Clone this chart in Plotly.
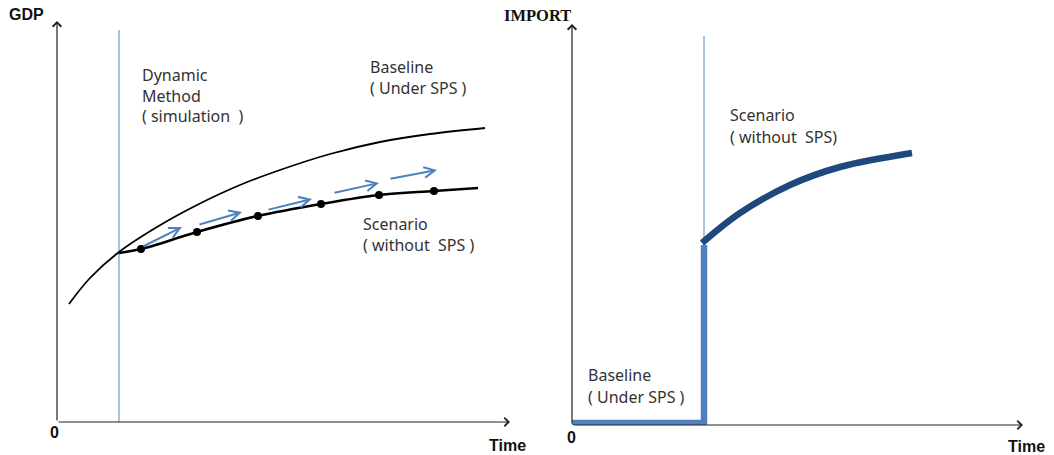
import plotly.graph_objects as go

W, H = 1054, 455

# ---------------- data (left panel: GDP over time) ----------------
gdp_base_t = [12, 33, 62, 100, 140, 183, 223, 273, 323, 373, 428]
gdp_base_v = [118, 144, 170, 195, 217, 237, 252, 268, 280, 288, 294]

gdp_scen_t = [62, 84, 140, 201, 264, 322, 377, 421]
gdp_scen_v = [169, 173, 190, 206, 218, 227, 231, 234]

gdp_dot_t = [84, 140, 201, 264, 322, 377]
gdp_dot_v = [173, 190, 206, 218, 227, 231]

# simulation step arrows (start t, start v, end t, end v)
sim_t0 = [85, 141, 210, 276, 332]
sim_v0 = [175, 197, 212, 229, 243]
sim_t1 = [125, 185, 255, 322, 380]
sim_v1 = [195, 210, 223, 239, 252]

gdp_policy_t = [62, 62]
gdp_policy_v = [0, 392]

# ---------------- data (right panel: IMPORT over time) ----------------
imp_base_t = [0, 132, 132]
imp_base_v = [2, 2, 180]

imp_scen_t = [130, 168, 218, 268, 340]
imp_scen_v = [182, 212, 240, 258, 272]

imp_policy_t = [132, 132]
imp_policy_v = [0, 389]

TXT = "#333333"
FONT = "Noto Sans"
BLUE = "#4F81BD"
DARK = "#1F497D"

fig = go.Figure()

# left panel
fig.add_trace(go.Scatter(x=gdp_policy_t, y=gdp_policy_v, mode="lines",
                         line=dict(color="#5B84B8", width=1), xaxis="x", yaxis="y"))
fig.add_trace(go.Scatter(x=gdp_base_t, y=gdp_base_v, mode="lines",
                         line=dict(color="black", width=1.8, shape="spline"), xaxis="x", yaxis="y"))
fig.add_trace(go.Scatter(x=gdp_scen_t, y=gdp_scen_v, mode="lines",
                         line=dict(color="black", width=2.6, shape="spline"), xaxis="x", yaxis="y"))
fig.add_trace(go.Scatter(x=gdp_dot_t, y=gdp_dot_v, mode="markers",
                         marker=dict(color="black", size=8), xaxis="x", yaxis="y", cliponaxis=False))

# right panel
fig.add_trace(go.Scatter(x=imp_policy_t, y=imp_policy_v, mode="lines",
                         line=dict(color="#5B84B8", width=1), xaxis="x2", yaxis="y2"))
fig.add_trace(go.Scatter(x=imp_base_t, y=imp_base_v, mode="lines",
                         line=dict(color=BLUE, width=6.5), xaxis="x2", yaxis="y2", cliponaxis=False))
fig.add_trace(go.Scatter(x=imp_scen_t, y=imp_scen_v, mode="lines",
                         line=dict(color=DARK, width=6.5, shape="spline"), xaxis="x2", yaxis="y2"))

ann = []

def axis_arrow(xr, yr, x, y, ax, ay):
    ann.append(dict(xref=xr, yref=yr, axref=xr, ayref=yr, x=x, y=y, ax=ax, ay=ay,
                    text="", showarrow=True, arrowhead=4, arrowsize=1.4, arrowwidth=1.2,
                    arrowcolor="#222222"))

axis_arrow("x", "y", 0, 401, 0, 0)
axis_arrow("x", "y", 453, 0, 0, 0)
axis_arrow("x2", "y2", 0, 401, 0, 0)
axis_arrow("x2", "y2", 451, 0, 0, 0)

for a0, b0, a1, b1 in zip(sim_t0, sim_v0, sim_t1, sim_v1):
    ann.append(dict(xref="x", yref="y", axref="x", ayref="y", x=a1, y=b1, ax=a0, ay=b0,
                    text="", showarrow=True, arrowhead=5, arrowsize=1.05, arrowwidth=2,
                    arrowcolor=BLUE))

def label(xr, yr, x, y, txt):
    ann.append(dict(xref=xr, yref=yr, x=x, y=y, text=txt, showarrow=False,
                    xanchor="left", yanchor="middle",
                    font=dict(family=FONT, size=16, color=TXT)))

label("x", "y", 83, 347, "Dynamic")
label("x", "y", 83, 326, "Method")
label("x", "y", 83, 306, "( simulation  )")
label("x", "y", 311, 355, "Baseline")
label("x", "y", 311, 334, "( Under SPS )")
label("x", "y", 304, 198, "Scenario")
label("x", "y", 304, 177, "( without  SPS )")

label("x2", "y2", 156, 310, "Scenario")
label("x2", "y2", 156, 288, "( without  SPS)")
label("x2", "y2", 14, 50, "Baseline")
label("x2", "y2", 14, 28, "( Under SPS )")

def plabel(px, py, txt, fam="Liberation Sans", size=15):
    ann.append(dict(xref="paper", yref="paper", x=px / W, y=1 - py / H, text="<b>%s</b>" % txt,
                    showarrow=False, xanchor="center", yanchor="middle",
                    font=dict(family=fam, size=size, color="#111111")))

plabel(26, 15, "GDP", size=16)
plabel(54, 432, "0", size=16)
plabel(507, 445, "Time", size=16)
plabel(537, 16, "IMPORT", fam="Liberation Serif", size=16.5)
plabel(571, 437, "0", size=16)
plabel(1026, 446, "Time", size=16)

ax_common = dict(visible=False, fixedrange=True)
fig.update_layout(
    width=W, height=H,
    margin=dict(l=0, r=0, t=0, b=0),
    paper_bgcolor="white", plot_bgcolor="white",
    showlegend=False,
    xaxis=dict(domain=[57 / W, 517 / W], range=[0, 460], **ax_common),
    yaxis=dict(domain=[(H - 422) / H, (H - 12) / H], range=[0, 410], **ax_common),
    xaxis2=dict(domain=[572 / W, 1032 / W], range=[0, 460], **ax_common),
    yaxis2=dict(domain=[(H - 425) / H, (H - 15) / H], range=[0, 410], **ax_common),
    annotations=ann,
)

fig.write_html("out.html", config={"displayModeBar": False},
               post_script="document.body.style.margin='0';document.body.style.overflow='hidden';")
